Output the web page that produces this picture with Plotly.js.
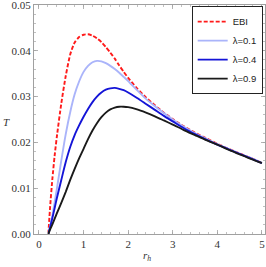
<!DOCTYPE html>
<html><head><meta charset="utf-8">
<script src="https://cdn.plot.ly/plotly-3.0.1.min.js"></script>
<style>html,body{margin:0;padding:0;background:#fff;}#chart{width:266px;height:267px;}</style>
</head><body><div id="chart"></div>
<script>
const rh = [0.21,0.25,0.3,0.35,0.4,0.5,0.6,0.7,0.8,0.9,1.0,1.1,1.2,1.3,1.4,1.5,1.6,1.7,1.8,1.9,2.0,2.2,2.4,2.6,2.8,3.0,3.25,3.5,3.75,4.0,4.25,4.5,4.75,5.0];
const T_EBI = [0,0.0060,0.0120,0.0170,0.0212,0.0285,0.0345,0.0392,0.0418,0.0430,0.0435,0.0436,0.0433,0.0427,0.0419,0.0408,0.0396,0.0383,0.0368,0.0354,0.0341,0.0318,0.0298,0.0281,0.0265,0.0251,0.0235,0.0221,0.0209,0.0197,0.0186,0.0176,0.0166,0.0155];
const T_l01 = [0,0.0018,0.0040,0.0068,0.0098,0.0160,0.0218,0.0266,0.0305,0.0333,0.0354,0.0367,0.0375,0.0378,0.0377,0.0373,0.0367,0.0360,0.0352,0.0343,0.0334,0.0314,0.0295,0.0279,0.0264,0.0250,0.0234,0.0220,0.0208,0.0196,0.0186,0.0175,0.0166,0.0155];
const T_l04 = [0,0.0015,0.0035,0.0056,0.0078,0.0118,0.0157,0.0190,0.0216,0.0237,0.0256,0.0273,0.0288,0.0300,0.0309,0.0315,0.0318,0.0319,0.0317,0.0314,0.0309,0.0297,0.0284,0.0271,0.0258,0.0246,0.0231,0.0218,0.0206,0.0195,0.0185,0.0175,0.0165,0.0155];
const T_l09 = [0,0.0010,0.0021,0.0033,0.0045,0.0068,0.0092,0.0118,0.0142,0.0165,0.0186,0.0207,0.0226,0.0242,0.0255,0.0265,0.0272,0.0276,0.0278,0.0278,0.0277,0.0272,0.0265,0.0257,0.0248,0.0239,0.0227,0.0216,0.0205,0.0195,0.0184,0.0174,0.0164,0.0155];
const names = ["EBI","λ=0.1","λ=0.4","λ=0.9"];
const xTicks = [0,1,2,3,4,5];
const yTicks = [0,0.01,0.02,0.03,0.04,0.05];
const yTickText = ["0.00","0.01","0.02","0.03","0.04","0.05"];

const series = [T_EBI,T_l01,T_l04,T_l09];
const styles = [
  {color:'#ff1a1a', width:1.9, dash:'4px,2px'},
  {color:'rgb(170,180,250)', width:1.9, dash:'solid'},
  {color:'rgb(20,20,215)', width:1.9, dash:'solid'},
  {color:'#1a1a1a', width:1.9, dash:'solid'}
];
const data = series.map((y,i)=>({
  x: rh, y: y, name: names[i], type:'scatter', mode:'lines',
  line: Object.assign({shape:'spline', smoothing:0.6}, styles[i])
}));

const axisCommon = {
  showgrid:false, zeroline:false, showline:true, linecolor:'#a0a0a0', linewidth:1,
  mirror:'ticks', ticks:'inside', ticklen:4, tickcolor:'#a0a0a0', tickwidth:0.8,
  ticklabeloverflow:'allow',
  tickfont:{family:'Liberation Serif, serif', size:11, color:'#333'}
};
const layout = {
  width:266, height:267,
  margin:{l:34, r:1, t:5, b:33, pad:0},
  paper_bgcolor:'#fff', plot_bgcolor:'#fff',
  showlegend:true,
  xaxis: Object.assign({}, axisCommon, {
    range:[-0.112,5.07], tickvals:xTicks, ticktext:xTicks.map(String),
    minor:{ticks:'inside', ticklen:2, tickcolor:'#b0b0b0', dtick:0.2, tick0:0}
  }),
  yaxis: Object.assign({}, axisCommon, {
    range:[0,0.05], tickvals:yTicks, ticktext:yTickText,
    minor:{ticks:'inside', ticklen:2, tickcolor:'#b0b0b0', dtick:0.002, tick0:0}
  }),
  annotations:[
    {text:'<i>T</i>', xref:'paper', yref:'paper', x:-0.143, y:0.49, xanchor:'left', yanchor:'middle', showarrow:false,
     font:{family:'Liberation Serif, serif', size:11, color:'#333'}},
    {text:'<i>r<sub>h</sub></i>', xref:'paper', yref:'paper', x:0.49, y:-0.095, xanchor:'center', yanchor:'middle', showarrow:false,
     font:{family:'Liberation Serif, serif', size:11, color:'#333'}}
  ],
  legend:{x:0.99, y:0.995, xanchor:'right', yanchor:'top', bgcolor:'#fff', bordercolor:'#222', borderwidth:1,
    font:{family:'Liberation Sans, Arial, sans-serif', size:9.5, color:'#222'}, itemwidth:30, tracegroupgap:0}
};
Plotly.newPlot('chart', data, layout, {displayModeBar:false, staticPlot:true});
</script></body></html>
